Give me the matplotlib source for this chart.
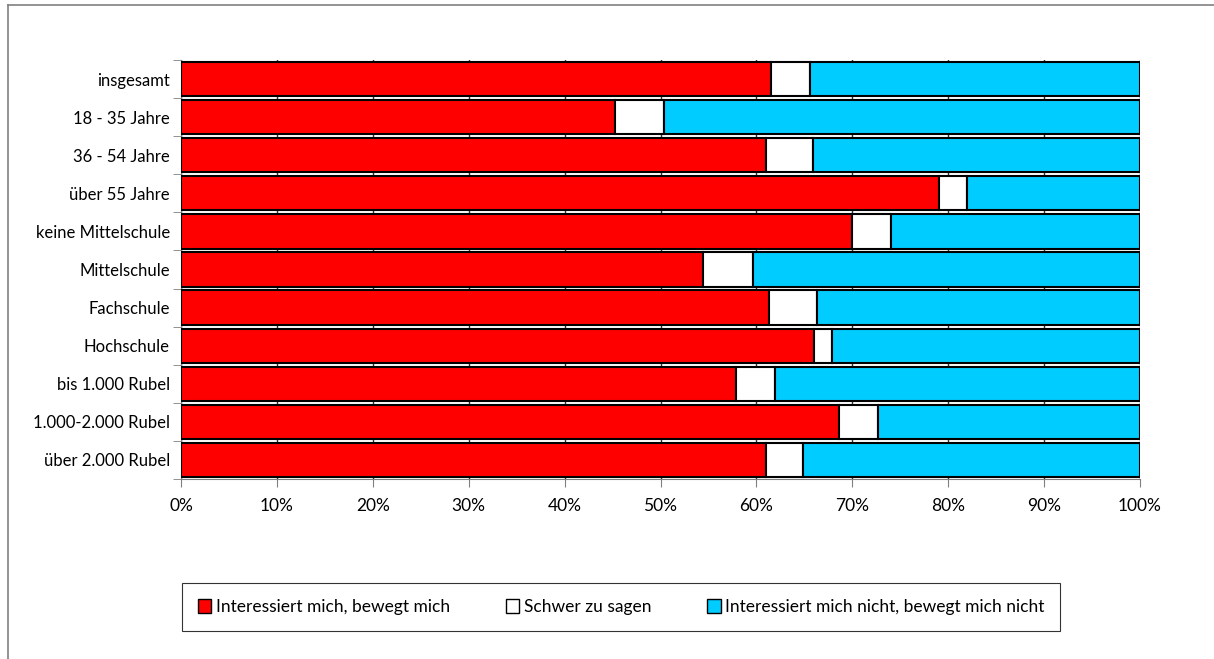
# Stacked bar chart: interest by group (percent shares)
import numpy as np
import matplotlib
matplotlib.use('Agg')
import matplotlib.pyplot as plt
from matplotlib.lines import Line2D
from matplotlib.patches import Patch

plt.rcParams['font.family'] = ['Lato', 'DejaVu Sans']

categories = ['insgesamt', '18 - 35 Jahre', '36 - 54 Jahre', 'über 55 Jahre',
              'keine Mittelschule', 'Mittelschule', 'Fachschule', 'Hochschule',
              'bis 1.000 Rubel', '1.000-2.000 Rubel', 'über 2.000 Rubel']
interessiert = [61.5, 45.3, 61.0, 79.0, 70.0, 54.4, 61.3, 66.0, 57.9, 68.6, 61.0]
schwer = [4.1, 5.1, 4.9, 3.0, 4.0, 5.2, 5.0, 1.9, 4.0, 4.1, 3.9]
nicht = [34.4, 49.6, 34.1, 18.0, 26.0, 40.4, 33.7, 32.1, 38.1, 27.3, 35.1]
series_names = ['Interessiert mich, bewegt mich', 'Schwer zu sagen',
                'Interessiert mich nicht, bewegt mich nicht']
colors = ['#FF0000', '#FFFFFF', '#00CCFF']

def main():
    fig = plt.figure(figsize=(12.14, 6.59), dpi=100)
    ax = fig.add_axes([181 / 1214, 1 - 479 / 659, (1140 - 181) / 1214, (479 - 60) / 659])

    y = np.arange(len(categories))
    left = np.zeros(len(categories))
    for vals, col in zip([interessiert, schwer, nicht], colors):
        ax.barh(y, vals, left=left, height=0.9, color=col, edgecolor='black',
                linewidth=1.5, zorder=3)
        left += np.array(vals)

    ax.set_xlim(0, 100)
    ax.set_ylim(len(categories) - 0.5, -0.5)
    ax.set_xticks(np.arange(0, 101, 10))
    ax.set_xticklabels([f'{v}%' for v in range(0, 101, 10)], fontsize=12.5)
    ax.set_yticks(y)
    ax.set_yticklabels(categories, fontsize=12)
    ax.set_yticks(np.arange(-0.5, len(categories), 1), minor=True)
    ax.tick_params(axis='y', which='major', length=0, pad=8)
    ax.tick_params(axis='y', which='minor', length=6, color='#808080', direction='out')
    ax.tick_params(axis='x', length=6, color='#808080', direction='out', pad=8)
    ax.grid(axis='x', color='#333333', linewidth=1, zorder=0)

    for s in ['top', 'right']:
        ax.spines[s].set_visible(False)
    for s in ['left', 'bottom']:
        ax.spines[s].set_color('#808080')

    handles = [Patch(facecolor=c, edgecolor='black', linewidth=1) for c in colors]
    leg = fig.legend(handles, series_names, loc='center', ncol=3,
                     bbox_to_anchor=(621 / 1214, 1 - 607 / 659), fontsize=12.5,
                     frameon=True, fancybox=False, edgecolor='black',
                     handlelength=0.8, handleheight=0.8, handletextpad=0.25,
                     columnspacing=3.2, borderpad=0.9, borderaxespad=0)
    leg.get_frame().set_linewidth(0.8)

    # outer frame (top and left edges visible)
    fig.add_artist(Line2D([8 / 1214, 1], [1 - 5 / 659, 1 - 5 / 659],
                          transform=fig.transFigure, color='#808080', linewidth=1.2))
    fig.add_artist(Line2D([8 / 1214, 8 / 1214], [0, 1 - 5 / 659],
                          transform=fig.transFigure, color='#808080', linewidth=1.2))

    fig.savefig('out.png', dpi=100)
    plt.close(fig)

if __name__ == "__main__":
    main()
